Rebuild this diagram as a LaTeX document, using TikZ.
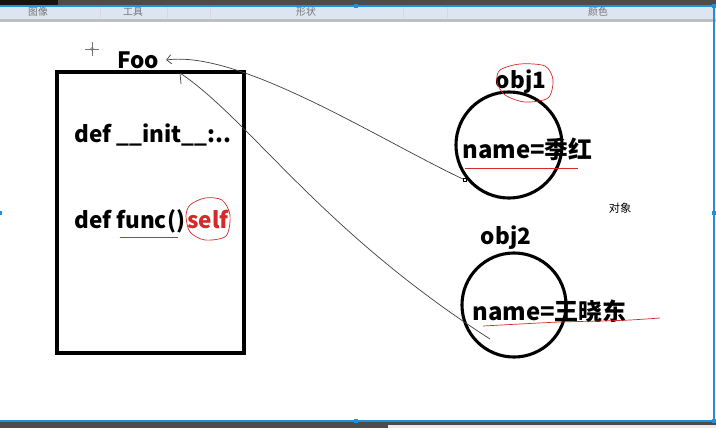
\documentclass[tikz,border=0pt]{standalone}
\usepackage{fontspec}
\setmainfont{Noto Sans CJK SC}
\usetikzlibrary{arrows.meta}
\definecolor{barblue}{HTML}{DCE6F2}
\definecolor{selblue}{HTML}{1E90E0}
\definecolor{inkred}{HTML}{D42A2A}
\tikzset{>/.tip={Straight Barb[scale=1.3]},
  code/.style={font=\fontsize{16}{19}\selectfont\bfseries, inner sep=0pt},
  field/.style={font=\fontsize{17}{20}\selectfont\bfseries, inner sep=0pt},
  bartext/.style={font=\fontsize{7}{8}\selectfont, text=black!55, inner sep=0pt},
  pen/.style={black!75, line width=0.5pt},
  ink/.style={inkred, line width=0.5pt},
  handle/.style={fill=selblue, minimum size=3.5pt, inner sep=0pt}}

\begin{document}
\begin{tikzpicture}[x=0.025cm, y=-0.025cm]
\useasboundingbox (0,0) rectangle (716,428);
\fill[white] (0,0) rectangle (716,428);
\fill[black!70] (0,0) rectangle (716,6);
\fill[black!92] (0,0) rectangle (58,5);
\fill[barblue] (0,6) rectangle (716,19);
\fill[black!25] (0,19) rectangle (716,22);
\foreach \x in {100,167,210,403,447}
  \draw[black!15] (\x,7) -- (\x,18);
\foreach \x/\t in {38/图像,133/工具,306/形状,598/颜色}
  \node[bartext] (bar\x) at (\x,12) {\t};
\fill[black!70] (0,422) rectangle (716,428);
\fill[black!8] (388,425) rectangle (716,428);
\draw[selblue, line width=0.8pt] (0,6) -- (714,6) -- (714,421) -- (0,421);
\foreach \x/\y in {356/6,714/6,0/213,714/213,356/421,714/421}
  \node[handle] (h\x\y) at (\x,\y) {};

\draw[black!55] (85,49) -- (99,49) (92,42) -- (92,56);
\node[draw=black!55, circle, inner sep=0pt, minimum size=2pt] (cur) at (92,49) {};

\node[draw, line width=2.4pt, minimum width=4.67cm, minimum height=7.02cm] (cls) at (150.5,212.5) {};
\node[code, inner xsep=5pt] (foo) at (138,60) {Foo};
\node[code, anchor=base west] (init) at (74,142) {def \_\_init\_\_:..};
\node[code, anchor=base west] (func) at (74,228) {def func()};
\node[code, anchor=base west, text=inkred] (self) at (187,228) {self};

\node[draw, circle, line width=2.2pt, minimum size=2.65cm] (c1) at (509,145) {};
\node[draw, circle, line width=2.2pt, minimum size=2.6cm] (c2) at (514,305) {};
\node[code] (obj1) at (521,82) {obj1};
\node[code] (obj2) at (506,238) {obj2};
\node[field, anchor=base west] (name1) at (462,158) {name=季红};
\node[field, anchor=base west] (name2) at (472,320) {name=王晓东};
\node[font=\fontsize{8}{9}\selectfont] (obj) at (620,208) {对象};

\node[draw, line width=0.6pt, minimum size=2pt, inner sep=0pt] (p1) at (465,180) {};
\draw[pen, ->] (p1) .. controls (380,140) and (240,50) .. (foo.east);
\coordinate (s2) at (180,73);
\coordinate (e2) at (490,339);
\draw[pen] (s2) -- ++(1,11);
\draw[pen] (s2) .. controls (250,120) and (320,230) .. (e2);

\draw[ink] plot[smooth cycle] coordinates {(500,70) (520,64) (545,66) (553,80) (548,98) (525,102) (505,95) (497,82)};
\draw[ink] plot[smooth cycle] coordinates {(190,205) (205,198) (222,200) (230,215) (226,236) (205,240) (190,232) (186,216)};
\draw[ink] (120,237) -- (178,237);
\draw[ink] (465,168) -- (578,168);
\draw[ink] plot[smooth] coordinates {(483,326) (520,324) (560,322) (600,321) (630,320) (660,318)};
\end{tikzpicture}
\end{document}
